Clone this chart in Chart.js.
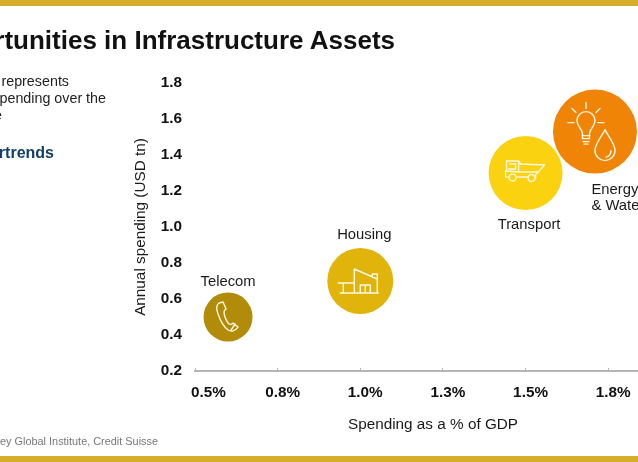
<!DOCTYPE html>
<html>
<head>
<meta charset="utf-8">
<script src="https://cdn.jsdelivr.net/npm/chart.js@4"></script>
<style>
html,body{margin:0;padding:0;background:#fff;width:638px;height:462px;overflow:hidden;font-family:"Liberation Sans",Arial,sans-serif;}
#wrap{position:relative;width:638px;height:462px;overflow:hidden;}
#holder{position:absolute;left:0;top:0;width:680px;height:462px;}
.bar{position:absolute;left:0;width:638px;height:6px;background:#d7ae2c;}
.t{position:absolute;white-space:nowrap;text-align:right;}
</style>
</head>
<body>
<div id="wrap">
<div id="holder"><canvas id="c" width="680" height="462" style="width:680px;height:462px;display:block"></canvas></div>
<div class="bar" style="top:0"></div>
<div class="bar" style="top:456px"></div>
<div class="t" style="right:243px;top:24px;font-size:26px;line-height:32px;font-weight:bold;color:#111">Opportunities in Infrastructure Assets</div>
<div class="t" style="right:569px;top:73px;font-size:14.3px;line-height:17px;color:#222">Bubble size represents</div>
<div class="t" style="right:532px;top:90px;font-size:14.3px;line-height:17px;color:#222">annual spending over the</div>
<div class="t" style="right:636px;top:107px;font-size:14.3px;line-height:17px;color:#222">next decade</div>
<div class="t" style="right:584px;top:143px;font-size:16px;line-height:19px;font-weight:bold;color:#123f6b">Supertrends</div>
<div class="t" style="right:480px;top:434px;font-size:10.9px;line-height:14px;color:#777">Source: McKinsey Global Institute, Credit Suisse</div>
</div>
<script>
const categories = ["Telecom", "Housing", "Transport", "Energy & Water"];
const spendingPctGdp = [0.6, 1.0, 1.5, 1.71];
const annualSpendingTrn = [0.5, 0.7, 1.3, 1.53];
const bubbleSizes = [24.5, 33, 37, 42];
const bubbleColors = ["#b28b08", "#e0b40a", "#fbd20f", "#ef8407"];
const xTickLabels = ["    0.5%", "0.8%", "1.0%", "1.3%", "1.5%", "1.8%"];
const yTickLabels = ["0.2", "0.4", "0.6", "0.8", "1.0", "1.2", "1.4", "1.6", "1.8"];

const icons = [
  { stroke: ["M-9,-14 C-12,-12 -12,-8 -10,-3 C-8,3 -4,10 0,13 C3,15 7,14 10,10 L5,6 C3,8 2,8 0,6 C-2,3 -4,-2 -4,-5 C-4,-7 -3,-7 -2,-8 L-5,-15 Z M3,13 L7,7"] },
  { stroke: ["M-22,2 L-6,2 M-17,2 L-17,12 M-20,12 L18,12 M-6,12 L-6,-12 L17,-2 L17,12 M0,12 L0,4 L10,4 L10,12 M5,4 L5,12 M12,-4 L12,-7 L17,-7 L17,-2"] },
  { stroke: ["M-19,-2 L-19,-12 L-7,-12 L-5,-9 L19,-8 L10,2 L10,5 M-7,-12 L-7,-1 M-16,-9 L-10,-9 L-10,-4 L-17,-4 M-16,4 L-20,4 L-20,-2 L-5,-1 L12,-1 M-9,4 L3,4",
             "M-9.5,4.5 a3.5,3.5 0 1,0 -7,0 a3.5,3.5 0 1,0 7,0 Z M9.5,5 a3.5,3.5 0 1,0 -7,0 a3.5,3.5 0 1,0 7,0 Z"] },
  { stroke: ["M-12.5,7 L-12.5,2 C-13,-3 -18,-5 -18,-11 C-18,-16 -14,-20 -9,-20 C-4,-20 0,-16 0,-11 C0,-5 -5,-3 -5.5,2 L-5.5,7 Z M-13,4 L-5,4 M-12,10 L-6,10 M-11,12.5 L-7,12.5",
             "M-9,-29 L-9,-23 M-23,-23 L-19,-19 M5,-23 L1,-19 M-27,-9 L-21,-9 M3,-9 L9,-9",
             "M10,-2 C7,5 0,12 0,19 C0,25 5,29 10,29 C15,29 20,25 20,19 C20,12 13,5 10,-2 Z M16,19 C16,23 14,25 11,25.5"] }
];

const labelSpecs = [
  { lines: ["Telecom"], dx: 0, dy: -35, align: "center" },
  { lines: ["Housing"], dx: 4, dy: -46, align: "center" },
  { lines: ["Transport"], dx: 3.5, dy: 52, align: "center" },
  { lines: ["Energy", "& Water"], dx: -3.5, dy: 58, align: "left" }
];

const bubbleDecor = {
  id: "bubbleDecor",
  afterDatasetsDraw(chart) {
    const ctx = chart.ctx;
    chart.getDatasetMeta(0).data.forEach((el, i) => {
      ctx.save();
      ctx.translate(el.x, el.y);
      ctx.strokeStyle = "#fff8e0";
      ctx.lineWidth = 1.4;
      ctx.lineJoin = "round";
      ctx.lineCap = "round";
      icons[i].stroke.forEach(p => ctx.stroke(new Path2D(p)));
      const s = labelSpecs[i];
      ctx.fillStyle = "#1a1a1a";
      ctx.font = '14.8px "Liberation Sans"';
      ctx.textAlign = s.align;
      ctx.textBaseline = "middle";
      s.lines.forEach((l, k) => ctx.fillText(l, s.dx, s.dy + k * 16));
      ctx.restore();
    });
  }
};

new Chart(document.getElementById("c"), {
  type: "bubble",
  data: {
    labels: categories,
    datasets: [{
      label: "Annual spending",
      data: categories.map((c, i) => ({ x: spendingPctGdp[i], y: annualSpendingTrn[i], r: bubbleSizes[i] })),
      backgroundColor: bubbleColors,
      borderWidth: 0,
      hoverRadius: 0,
      clip: false
    }]
  },
  options: {
    responsive: false,
    animation: false,
    layout: { autoPadding: false, padding: { top: 83, right: 9, left: 0, bottom: 0 } },
    plugins: { legend: { display: false }, tooltip: { enabled: false } },
    scales: {
      x: {
        type: "linear",
        bounds: "data",
        min: 0.5,
        max: 1.94,
        afterFit(s) { s.height = 91; s.paddingRight = 0; s.paddingLeft = 0; },
        border: { color: "#b5b5b5", width: 2 },
        grid: { drawOnChartArea: false, drawTicks: true, tickLength: -3, color: "#b5b5b5", lineWidth: 1 },
        ticks: {
          stepSize: 0.25,
          includeBounds: false,
          autoSkip: false,
          maxRotation: 0,
          minRotation: 0,
          padding: 16,
          labelOffset: 5,
          color: "#111",
          font: { family: "Liberation Sans", size: 15.3, weight: "bold" },
          callback(v, i) { return xTickLabels[i]; }
        },
        title: {
          display: true,
          text: "Spending as a % of GDP",
          color: "#1a1a1a",
          font: { family: "Liberation Sans", size: 15.3 },
          padding: { top: 0, bottom: 28 }
        }
      },
      y: {
        type: "linear",
        min: 0.2,
        max: 1.8,
        afterFit(s) { s.width = 195; },
        border: { display: false },
        grid: { display: false, drawTicks: false },
        ticks: {
          stepSize: 0.2,
          padding: 13,
          color: "#111",
          font: { family: "Liberation Sans", size: 15.3, weight: "bold" },
          callback(v, i) { return yTickLabels[i]; }
        },
        title: {
          display: true,
          text: "Annual spending (USD tn)",
          color: "#1a1a1a",
          font: { family: "Liberation Sans", size: 15.3 },
          padding: { top: 132, bottom: 0 }
        }
      }
    }
  },
  plugins: [bubbleDecor]
});
</script>
</body>
</html>
